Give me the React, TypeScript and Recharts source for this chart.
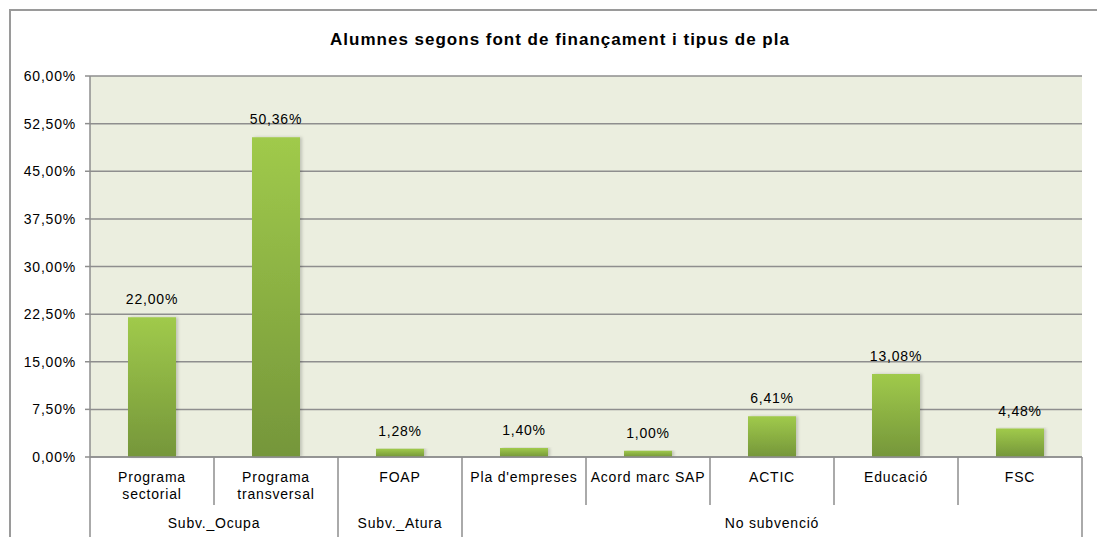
import React from "react";
import { BarChart, Bar, XAxis, YAxis, CartesianGrid, LabelList } from "recharts";

const categories = [
  "Programa\nsectorial",
  "Programa\ntransversal",
  "FOAP",
  "Pla d'empreses",
  "Acord marc SAP",
  "ACTIC",
  "Educació",
  "FSC",
];
const groups = [
  "Subv._Ocupa",
  "Subv._Ocupa",
  "Subv._Atura",
  "No subvenció",
  "No subvenció",
  "No subvenció",
  "No subvenció",
  "No subvenció",
];
const values = [22.0, 50.36, 1.28, 1.4, 1.0, 6.41, 13.08, 4.48];
const yTicks = [0, 7.5, 15, 22.5, 30, 37.5, 45, 52.5, 60];
const title = "Alumnes segons font de finançament i tipus de pla";

const data = categories.map((c, i) => ({ name: c, group: groups[i], value: values[i] }));

const W = 1097;
const H = 537;
const M_LEFT = 10;
const Y_W = 80;
const M_RIGHT = 15;
const M_TOP = 76;
const X_H = 80;
const PLOT_LEFT = M_LEFT + Y_W;
const PLOT_RIGHT = W - M_RIGHT;
const PLOT_BOTTOM = H - X_H;
const BAND = (PLOT_RIGHT - PLOT_LEFT) / categories.length;
const FONT = "'Liberation Sans', Arial, sans-serif";
const LINE = "#8e8e8e";
const TXT = { fontSize: 14, fontFamily: FONT, fill: "#000", letterSpacing: "0.8px" } as const;

const fmt = (v: number) => v.toFixed(2).replace(".", ",") + "%";

const CategoryTick = (props: any) => {
  const { x } = props;
  const index: number = props.index ?? props.payload?.index ?? 0;
  const left = x - BAND / 2;
  const right = x + BAND / 2;
  const isGroupStart = index === 0 || groups[index] !== groups[index - 1];
  const isLast = index === categories.length - 1;
  let groupSize = 1;
  while (index + groupSize < groups.length && groups[index + groupSize] === groups[index]) groupSize++;
  const lines = String(categories[index]).split("\n");
  return (
    <g>
      <line
        x1={left}
        x2={left}
        y1={PLOT_BOTTOM}
        y2={isGroupStart ? H : PLOT_BOTTOM + 48}
        stroke={LINE}
        strokeWidth={1.5}
      />
      {isLast && <line x1={right} x2={right} y1={PLOT_BOTTOM} y2={H} stroke={LINE} strokeWidth={1.5} />}
      {lines.map((l, k) => (
        <text key={k} x={x} y={PLOT_BOTTOM + 25 + k * 17} textAnchor="middle" style={TXT}>
          {l}
        </text>
      ))}
      {isGroupStart && (
        <text x={left + (groupSize * BAND) / 2} y={PLOT_BOTTOM + 71} textAnchor="middle" style={TXT}>
          {groups[index]}
        </text>
      )}
    </g>
  );
};

const ValueTick = (props: any) => {
  const { x, y, payload } = props;
  return (
    <text x={x} y={y} dy={5} textAnchor="end" style={TXT}>
      {fmt(Number(payload.value))}
    </text>
  );
};

export default function App() {
  return (
    <div
      style={{
        position: "absolute",
        left: 0,
        top: 0,
        width: W,
        height: H,
        overflow: "hidden",
        background: "#fff",
        fontFamily: FONT,
      }}
    >
      <div
        style={{
          position: "absolute",
          left: 9,
          top: 9,
          width: 1086,
          height: 700,
          border: "2px solid #9a9a9a",
        }}
      />
      <div
        style={{
          position: "absolute",
          left: 210,
          top: 31,
          width: 700,
          textAlign: "center",
          fontWeight: "bold",
          fontSize: 17,
          lineHeight: "17px",
          letterSpacing: "1px",
          color: "#000",
        }}
      >
        {title}
      </div>
      <div style={{ position: "absolute", left: 0, top: 0 }}>
        <BarChart
          width={W}
          height={H}
          data={data}
          margin={{ top: M_TOP, right: M_RIGHT, bottom: 0, left: M_LEFT }}
          barCategoryGap={0}
        >
          <defs>
            <linearGradient id="barGrad" x1="0" y1="0" x2="0" y2="1">
              <stop offset="0%" stopColor="#a0ca4b" />
              <stop offset="100%" stopColor="#75963a" />
            </linearGradient>
            <filter id="barShadow" x="-20%" y="-5%" width="150%" height="110%">
              <feDropShadow dx="2" dy="0" stdDeviation="1.5" floodColor="#000" floodOpacity="0.18" />
            </filter>
          </defs>
          <CartesianGrid vertical={false} horizontal={true} fill="#ebeedf" stroke={LINE} strokeWidth={1.5} />
          <XAxis
            dataKey="name"
            interval={0}
            height={X_H}
            tickLine={false}
            axisLine={{ stroke: LINE, strokeWidth: 1.5 }}
            tick={<CategoryTick />}
          />
          <YAxis
            width={Y_W}
            domain={[0, 60]}
            ticks={yTicks}
            interval={0}
            tickSize={5}
            tickMargin={9}
            axisLine={{ stroke: LINE, strokeWidth: 1.5 }}
            tickLine={{ stroke: LINE, strokeWidth: 1.5 }}
            tick={<ValueTick />}
          />
          <Bar
            dataKey="value"
            fill="url(#barGrad)"
            barSize={48}
            isAnimationActive={false}
            style={{ filter: "url(#barShadow)" }}
          >
            <LabelList
              dataKey="value"
              position="top"
              offset={13}
              formatter={(v: any) => fmt(Number(v))}
              style={TXT}
            />
          </Bar>
        </BarChart>
      </div>
    </div>
  );
}
